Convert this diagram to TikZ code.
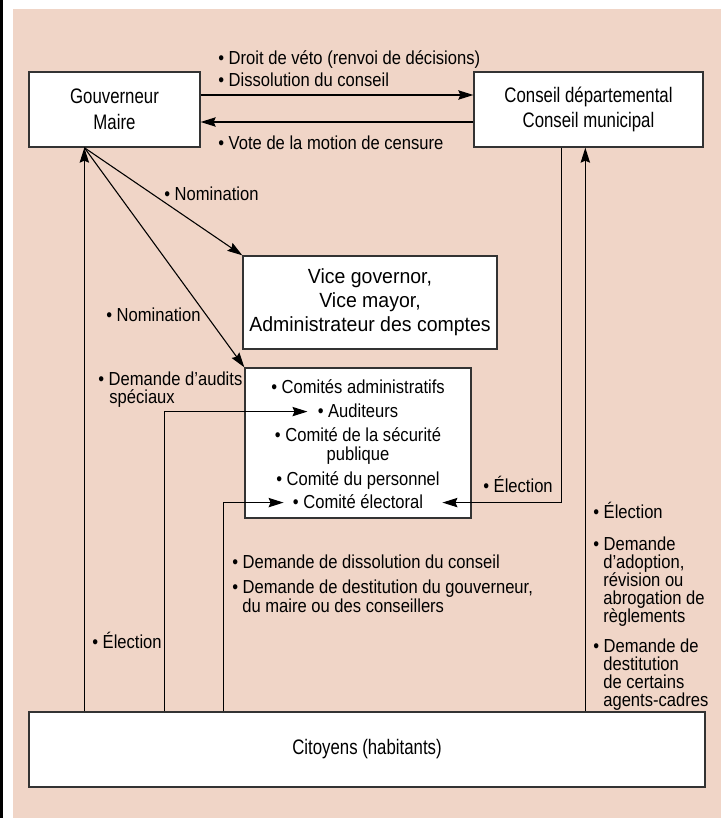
\documentclass[tikz,border=0pt]{standalone}
\usepackage{fontspec}
\setmainfont{Liberation Sans}[FakeStretch=0.88]
\newfontfamily\boxfam{Liberation Sans}[FakeStretch=0.80]
\newfontfamily\vicefam{Liberation Sans}[FakeStretch=0.95]
\usetikzlibrary{arrows.meta}

\definecolor{peach}{RGB}{240,213,199}
\newcommand{\lblfont}{\fontsize{11.3}{13}\selectfont}
\newcommand{\boxfont}{\boxfam\fontsize{12.6}{15.3}\selectfont}
\newcommand{\vicefont}{\vicefam\fontsize{12.3}{14.4}\selectfont}

\tikzset{
  box/.style={draw=black!80, line width=0.8pt, fill=white, inner sep=0pt, align=center},
  lbl/.style={inner sep=0pt, anchor=base west, font=\lblfont},
  ctext/.style={inner sep=0pt, anchor=base, font=\lblfont, text height=8.5pt, text depth=2pt},
  arr/.style={-{Stealth[length=9pt,width=5.6pt,inset=1.2pt]}, line width=0.65pt},
}

\begin{document}
\begin{tikzpicture}[x=0.6pt,y=-0.6pt]
    \useasboundingbox (0,0) rectangle (724,818);
    \fill [peach] (13,9) rectangle (721,818);
    \fill [black] (0,0) rectangle (2.7,818);

    % boxes
    \node [box, font=\boxfont, minimum width=102.6pt, minimum height=45pt] (gouv) at (114.5,109.5) {Gouverneur\\Maire};
    \node [box, font=\boxfont, minimum width=137.4pt, minimum height=45pt] (cons) at (588.5,109.5) {Conseil départemental\\Conseil municipal};
    \node [box, font=\vicefont, minimum width=152.4pt, minimum height=55.8pt] (vice) at (370,302.5) {Vice governor,\\Vice mayor,\\Administrateur des comptes};
    \node [box, minimum width=135.6pt, minimum height=90pt] (comites) at (358,443) {};
    \node [box, font=\boxfont, minimum width=405.6pt, minimum height=45pt] (cit) at (367,749.5) {Citoyens (habitants)};

    % committees
    \node [ctext] (cadm) at (358,393) {• Comités administratifs};
    \node [ctext] (aud) at (358,417) {• Auditeurs};
    \node [ctext] (secu) at (358,441) {• Comité de la sécurité};
    \node [ctext] (secu2) at (358,460) {publique};
    \node [ctext] (pers) at (358,485) {• Comité du personnel};
    \node [ctext] (elec) at (358,508) {• Comité électoral};

    % feet of the connectors
    \coordinate (gfoot) at ([xshift=33.6pt]gouv.south west);
    \coordinate (cfoot) at ([xshift=52.8pt]cons.south west);
    \coordinate (audfoot) at ([xshift=81.6pt]cit.north west);
    \coordinate (elecfoot) at ([xshift=117pt]cit.north west);
    \coordinate (cupfoot) at ([xshift=334.2pt]cit.north west);

    % connectors
    \draw [arr] ([yshift=8.7pt]gouv.east) -- ([yshift=8.7pt]cons.west);
    \draw [arr] ([yshift=-7.5pt]cons.west) -- ([yshift=-7.5pt]gouv.east);
    \draw [arr] (gfoot) -- (vice.north west);
    \draw [arr] (gfoot) -- (comites.north west);
    \draw [arr] (cit.north -| gfoot) -- (gfoot);
    \draw [arr, shorten >=6pt] (audfoot) |- (aud.west);
    \draw [arr, shorten >=5.4pt] (elecfoot) |- (elec.west);
    \draw [arr, shorten >=11.4pt] (cfoot) |- (elec.east);
    \draw [arr] (cupfoot) -- (cupfoot |- cons.south);

    % labels
    \node [lbl] (veto) at (218,65) {• Droit de véto (renvoi de décisions)};
    \node [lbl] (diss) at (218,87) {• Dissolution du conseil};
    \node [lbl] (motion) at (218,149) {• Vote de la motion de censure};
    \node [lbl] (nom1) at (164,200) {• Nomination};
    \node [lbl] (nom2) at (106,321) {• Nomination};
    \node [lbl] (audit) at (98,385) {• Demande d’audits};
    \node [lbl] (audit2) at (109,403) {spéciaux};
    \node [lbl] (elmid) at (483,492) {• Élection};
    \node [lbl] (dissol) at (232,568) {• Demande de dissolution du conseil};
    \node [lbl] (destit) at (232,593) {• Demande de destitution du gouverneur,};
    \node [lbl] (destit2) at (242,612) {du maire ou des conseillers};
    \node [lbl] (elleft) at (92,648) {• Élection};
    \node [lbl] (elright) at (593,518) {• Élection};
    \node [lbl] (adop) at (593,550) {• Demande};
    \node [lbl] (adop2) at (603,568) {d’adoption,};
    \node [lbl] (adop3) at (603,586) {révision ou};
    \node [lbl] (adop4) at (603,604) {abrogation de};
    \node [lbl] (adop5) at (603,622) {règlements};
    \node [lbl] (agent) at (593,652) {• Demande de};
    \node [lbl] (agent2) at (603,670) {destitution};
    \node [lbl] (agent3) at (603,688) {de certains};
    \node [lbl] (agent4) at (603,706) {agents-cadres};
\end{tikzpicture}
\end{document}
